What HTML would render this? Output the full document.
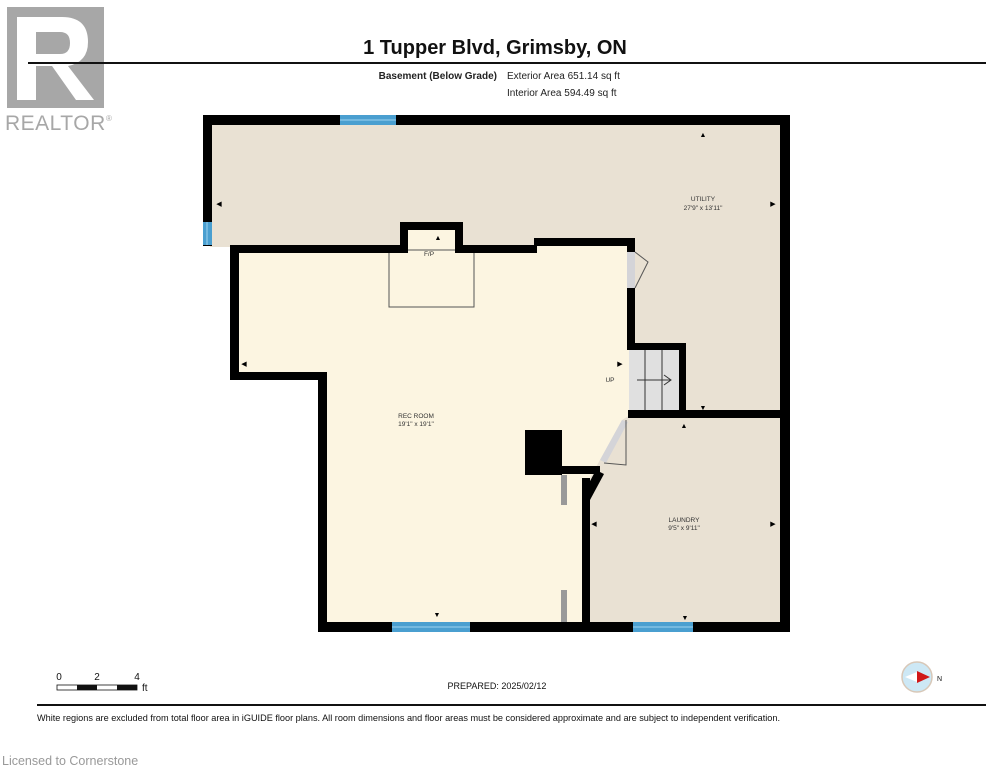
<!DOCTYPE html>
<html><head><style>
body{margin:0;background:#fff;width:994px;height:768px;overflow:hidden;font-family:"Liberation Sans",sans-serif}
</style></head><body>
<svg width="994" height="768" xmlns="http://www.w3.org/2000/svg" font-family="Liberation Sans, sans-serif">
<!-- Realtor logo -->
<rect x="7" y="7" width="97" height="101" fill="#a7a7a7"/>
<path d="M17 17 H62 Q88 17 88 42 Q88 62 68 66 L94 100 H76 L52 66 H36 V100 H17 Z M36 32 V54 H60 Q70 54 70 43 Q70 32 60 32 Z" fill="#fff"/>
<text x="5" y="130" font-size="21" fill="#a7a7a7" letter-spacing="0.5">REALTOR</text>
<text x="106" y="121" font-size="8" fill="#a7a7a7">®</text>
<!-- header -->
<text x="495" y="54" font-size="20" font-weight="bold" text-anchor="middle" fill="#111">1 Tupper Blvd, Grimsby, ON</text>
<rect x="28" y="62" width="958" height="2" fill="#111"/>
<text x="497" y="79" font-size="10" font-weight="bold" text-anchor="end" fill="#222">Basement (Below Grade)</text>
<text x="507" y="79" font-size="10" fill="#222">Exterior Area 651.14 sq ft</text>
<text x="507" y="96" font-size="10" fill="#222">Interior Area 594.49 sq ft</text>
<!-- floors -->
<rect x="210" y="123" width="572" height="124" fill="#e9e1d3"/>
<rect x="630" y="123" width="152" height="295" fill="#e9e1d3"/>
<rect x="586" y="415" width="196" height="210" fill="#e9e1d3"/>
<polygon points="235,250 635,245 635,412 622,420 590,478 590,625 322,625 322,376 235,376" fill="#fcf5e1"/>
<rect x="406" y="228" width="51" height="24" fill="#fcf5e1"/>
<rect x="535" y="244" width="95" height="8" fill="#fcf5e1"/>
<!-- fireplace -->
<rect x="389" y="250" width="85" height="57" fill="none" stroke="#555" stroke-width="1"/>
<!-- walls -->
<g fill="#000">
<rect x="203" y="115" width="587" height="10"/>
<rect x="780" y="115" width="10" height="517"/>
<rect x="203" y="115" width="9" height="131"/>
<rect x="230" y="245" width="172" height="8"/>
<rect x="400" y="222" width="62" height="8"/>
<rect x="400" y="222" width="8" height="31"/>
<rect x="455" y="222" width="8" height="31"/>
<rect x="455" y="245" width="82" height="8"/>
<rect x="534" y="238" width="101" height="8"/>
<rect x="627" y="238" width="8" height="14"/>
<rect x="627" y="288" width="8" height="60"/>
<rect x="627" y="343" width="59" height="7"/>
<rect x="679" y="343" width="7" height="75"/>
<rect x="628" y="410" width="162" height="8"/>
<rect x="230" y="245" width="9" height="135"/>
<rect x="230" y="372" width="97" height="8"/>
<rect x="318" y="372" width="9" height="260"/>
<rect x="318" y="622" width="472" height="10"/>
<rect x="582" y="478" width="8" height="154"/>
<polygon points="596,470 604,474 590,500 582,496"/>
<rect x="525" y="430" width="37" height="45"/>
<rect x="560" y="466" width="40" height="8"/>
</g>
<!-- stairs -->
<rect x="629" y="350" width="50" height="60" fill="#e0e0e0"/>
<line x1="645" y1="350" x2="645" y2="410" stroke="#333"/>
<line x1="662" y1="350" x2="662" y2="410" stroke="#333"/>
<line x1="637" y1="380" x2="671" y2="380" stroke="#333"/>
<polyline points="664,375 671,380 664,385" fill="none" stroke="#333"/>
<!-- doors -->
<rect x="627" y="252" width="8" height="36" fill="#d4d4d8"/>
<path d="M635 252 L648 262 L635 288" fill="none" stroke="#555"/>
<polygon points="622,420 628,422 606,463 600,460" fill="#d4d4d8"/>
<path d="M626 420 L626 465 L604 463" fill="none" stroke="#555"/>
<rect x="561" y="475" width="6" height="30" fill="#999"/>
<rect x="561" y="590" width="6" height="32" fill="#999"/>
<!-- windows -->
<g fill="#4a9fd0">
<rect x="340" y="115" width="56" height="10"/>
<rect x="203" y="222" width="9" height="23"/>
<rect x="392" y="622" width="78" height="10"/>
<rect x="633" y="622" width="60" height="10"/>
</g>
<g stroke="#9fd3f0" stroke-width="1">
<line x1="340" y1="120" x2="396" y2="120"/>
<line x1="392" y1="627" x2="470" y2="627"/>
<line x1="633" y1="627" x2="693" y2="627"/>
<line x1="207" y1="222" x2="207" y2="245"/>
</g>
<!-- labels -->
<g font-size="6.5" fill="#333" text-anchor="middle">
<text x="703" y="201">UTILITY</text><text x="703" y="210">27'9" x 13'11"</text>
<text x="416" y="418">REC ROOM</text><text x="416" y="426">19'1" x 19'1"</text>
<text x="684" y="522">LAUNDRY</text><text x="684" y="530">9'5" x 9'11"</text>
<text x="429" y="256">F/P</text>
<text x="610" y="382">UP</text>
</g>
<g font-size="7" fill="#000" text-anchor="middle">
<text x="703" y="137">▲</text><text x="438" y="240">▲</text><text x="684" y="428">▲</text><text x="685" y="620">▼</text><text x="437" y="617">▼</text><text x="703" y="410">▼</text>
<text x="219" y="206">◀</text><text x="244" y="366">◀</text><text x="594" y="526">◀</text><text x="773" y="206">▶</text><text x="773" y="526">▶</text><text x="620" y="366">▶</text>
</g>
<!-- footer -->
<text x="59" y="680" font-size="10" fill="#111" text-anchor="middle">0</text>
<text x="97" y="680" font-size="10" fill="#111" text-anchor="middle">2</text>
<text x="137" y="680" font-size="10" fill="#111" text-anchor="middle">4</text>
<rect x="57" y="685" width="80" height="5" fill="#fff" stroke="#111" stroke-width="0.8"/>
<rect x="77" y="685" width="20" height="5" fill="#111"/>
<rect x="117" y="685" width="20" height="5" fill="#111"/>
<text x="142" y="691" font-size="10" fill="#111">ft</text>
<text x="497" y="689" font-size="9" text-anchor="middle" fill="#111">PREPARED: 2025/02/12</text>
<circle cx="917" cy="677" r="15" fill="#cde8f5" stroke="#d8c8b8" stroke-width="1.5"/>
<polygon points="905,677 917,672 917,682" fill="#fff"/>
<polygon points="917,671 930,677 917,683" fill="#d01818"/>
<text x="937" y="681" font-size="7" fill="#111">N</text>
<rect x="37" y="704" width="949" height="2" fill="#111"/>
<text x="37" y="721" font-size="9.2" fill="#111" textLength="743" lengthAdjust="spacingAndGlyphs">White regions are excluded from total floor area in iGUIDE floor plans. All room dimensions and floor areas must be considered approximate and are subject to independent verification.</text>
<text x="2" y="765" font-size="12.5" fill="#999">Licensed to Cornerstone</text>
</svg>
</body></html>
